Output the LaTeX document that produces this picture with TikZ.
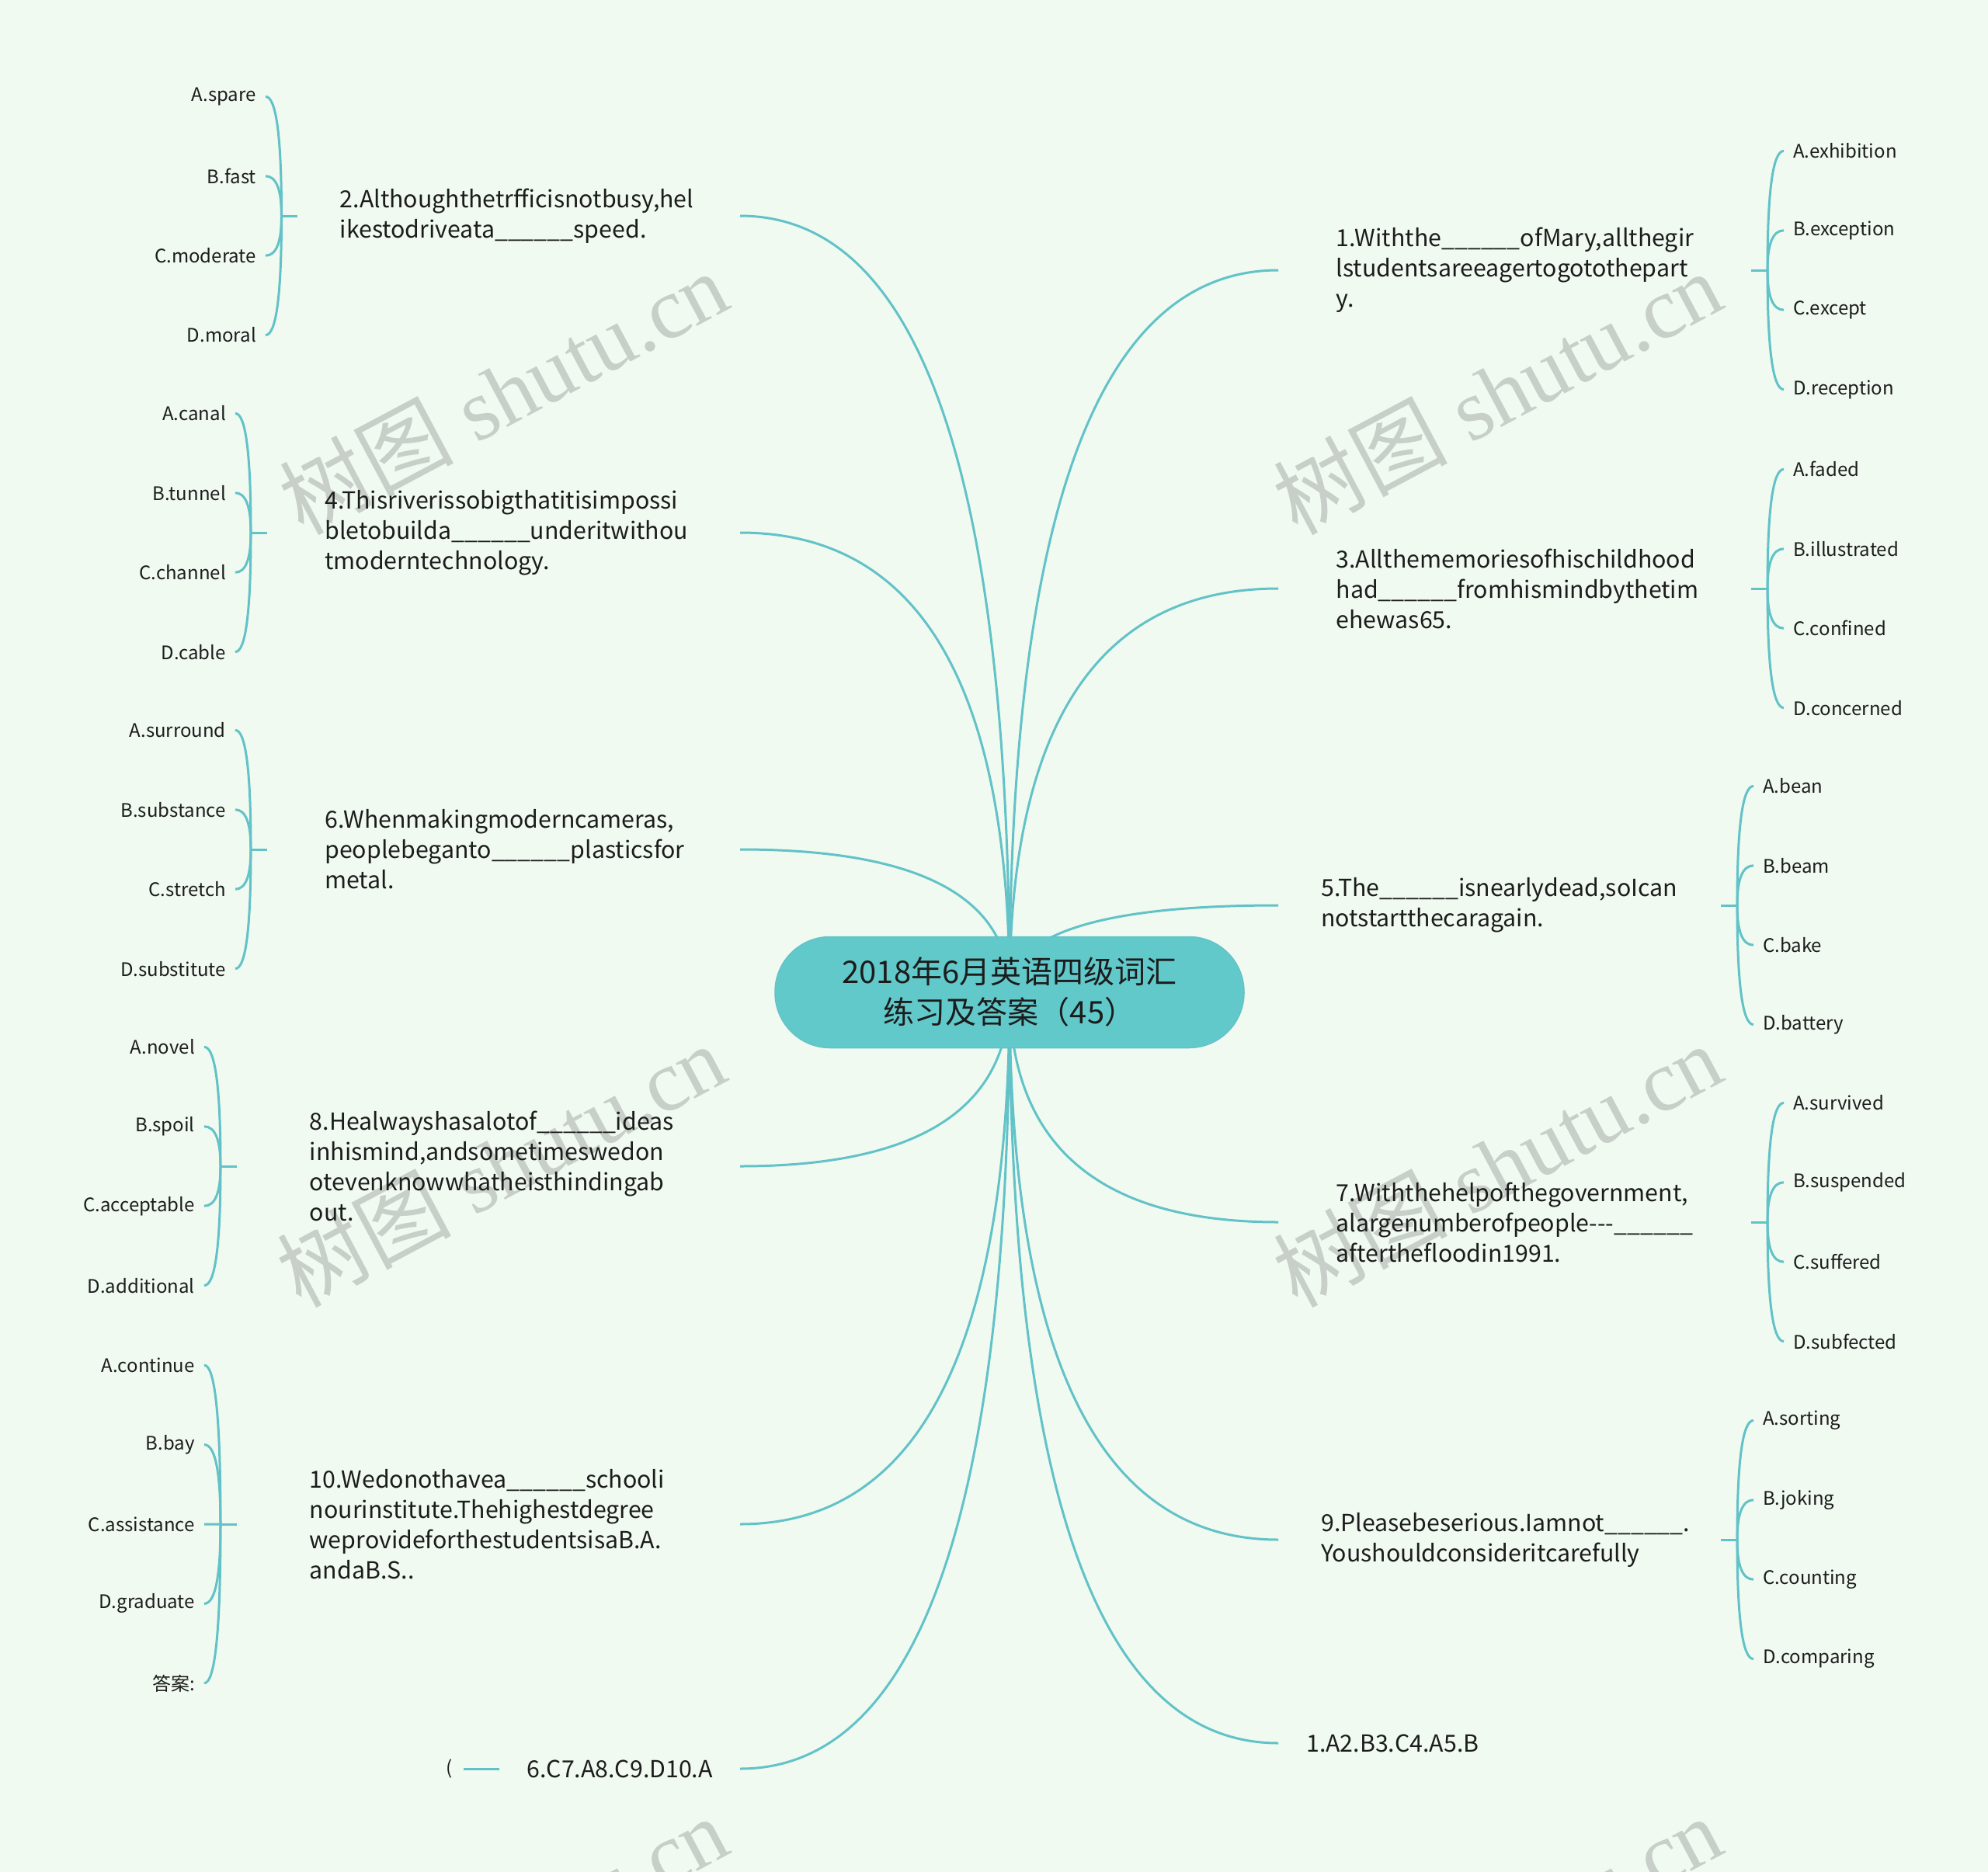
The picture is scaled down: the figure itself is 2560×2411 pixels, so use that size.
\documentclass[tikz,border=0pt]{standalone}
\usepackage{fontspec}
\setmainfont{Noto Sans CJK SC}
\newfontfamily\wmfont{Liberation Serif}
\usetikzlibrary{calc}

\definecolor{bgcol}{RGB}{240,250,240}
\definecolor{linkcol}{RGB}{98,194,200}
\definecolor{rootcol}{RGB}{98,201,203}
\definecolor{inkcol}{RGB}{28,28,28}
\definecolor{wmcol}{RGB}{200,206,200}

\pgfdeclarelayer{back}
\pgfdeclarelayer{links}
\pgfsetlayers{back,links,main}

\newcommand{\blank}{\_\_\_\_\_\_}

% curve from the root to a question, corner at (root x, question y)
\newcommand{\rootlink}[2]{%
  \begin{pgfonlayer}{links}
    \draw[link] (#1) .. controls ($(#1)!2/3!(#1 |- #2)$) and ($(#2)!2/3!(#1 |- #2)$) .. (#2);
  \end{pgfonlayer}}

% options of one question
% #1 question, #2 its side, #3 question y, #4 fork x, #5 option x, #6 option anchor, #7 first offset, #8 list
\newcommand{\optfork}[8]{%
  \coordinate (#1fork) at (#4,#3);
  \draw[link] (#1fork) -- (#1.#2);
  \foreach \o [count=\k] in {#8} {
    \node[opt, anchor=#6] (#1opt\k) at (#5,{#3+#7+(\k-1)*102.4}) {\o};
    \draw[link] (#1fork) .. controls ($(#1fork)!2/3!(#1fork |- #1opt\k.#6)$) and ($(#1opt\k.#6)!2/3!(#1fork |- #1opt\k.#6)$) .. (#1opt\k.#6);
  }}

\begin{document}
\begin{tikzpicture}[x=1pt, y=-1pt,
    link/.style={draw=linkcol, line width=3pt},
    root/.style={fill=rootcol, draw=linkcol, line width=1.5pt, rounded corners=71pt,
      minimum width=604pt, minimum height=143pt, align=center, text=inkcol,
      font=\fontsize{40}{52}\selectfont},
    qbox/.style={text width=460pt, align=left, inner sep=0pt, text=inkcol,
      font=\fontsize{30.3}{39}\selectfont},
    opt/.style={inner xsep=12pt, inner ysep=2pt, text=inkcol, font=\fontsize{24}{28}\selectfont},
    ans/.style={inner xsep=35pt, text=inkcol, font=\fontsize{30.3}{39}\selectfont},
    wm/.style={rotate=28, text=wmcol, font=\fontsize{112}{112}\selectfont}]

    \useasboundingbox (0,0) rectangle (2560,2411);

    % background and watermarks
    \begin{pgfonlayer}{back}
        \fill[bgcol] (0,0) rectangle (2560,2411);
        \node[wm] (wm1) at (648,505) {树图{\wmfont\ shutu.cn}};
        \node[wm] (wm2) at (1928,505) {树图{\wmfont\ shutu.cn}};
        \node[wm] (wm3) at (645,1500) {树图{\wmfont\ shutu.cn}};
        \node[wm] (wm4) at (1928,1500) {树图{\wmfont\ shutu.cn}};
        \node[wm] (wm5) at (648,2495) {树图{\wmfont\ shutu.cn}};
        \node[wm] (wm6) at (1928,2495) {树图{\wmfont\ shutu.cn}};
    \end{pgfonlayer}

    \node[root] (root) at (1300,1278) {2018年6月英语四级词汇\\练习及答案（45）};

    % left questions
    \node[qbox, anchor=east, minimum width=570pt] (q2) at (953,278) {2.Althoughthetrfficisnotbusy,hel\\ikestodriveata\blank speed.};
    \node[qbox, anchor=east, minimum width=609pt] (q4) at (953,686) {4.Thisriverissobigthatitisimpossi\\bletobuilda\blank underitwithou\\tmoderntechnology.};
    \node[qbox, anchor=east, minimum width=609pt] (q6) at (953,1094) {6.Whenmakingmoderncameras,\\peoplebeganto\blank plasticsfor\\metal.};
    \node[qbox, anchor=east, minimum width=648pt] (q8) at (953,1502) {8.Healwayshasalotof\blank ideas\\inhismind,andsometimeswedon\\otevenknowwhatheisthindingab\\out.};
    \node[qbox, anchor=east, minimum width=648pt] (q10) at (953,1963) {10.Wedonothavea\blank schooli\\nourinstitute.Thehighestdegree\\weprovideforthestudentsisaB.A.\\andaB.S..};
    \node[ans, anchor=east] (a2) at (953,2278) {6.C7.A8.C9.D10.A};
    \node[opt, anchor=east, inner xsep=14pt] (paren) at (597,2278) {(};

    % right questions
    \node[qbox, anchor=west, minimum width=609pt] (q1) at (1646,348) {1.Withthe\blank ofMary,allthegir\\lstudentsareeagertogotothepart\\y.};
    \node[qbox, anchor=west, minimum width=609pt] (q3) at (1646,758) {3.Allthememoriesofhischildhood\\had\blank fromhismindbythetim\\ehewas65.};
    \node[qbox, anchor=west, minimum width=570pt] (q5) at (1646,1166) {5.The\blank isnearlydead,soIcan\\notstartthecaragain.};
    \node[qbox, anchor=west, minimum width=609pt] (q7) at (1646,1574) {7.Withthehelpofthegovernment,\\\mbox{alargenumberofpeople-{}-{}-\blank}\\afterthefloodin1991.};
    \node[qbox, anchor=west, minimum width=570pt] (q9) at (1646,1983) {9.Pleasebeserious.Iamnot\blank.\\Youshouldconsideritcarefully};
    \node[ans, anchor=west, inner xsep=36pt] (a1) at (1646,2245) {1.A2.B3.C4.A5.B};

    % branches from the root
    \rootlink{root.center}{q2.east}
    \rootlink{root.center}{q4.east}
    \rootlink{root.center}{q6.east}
    \rootlink{root.center}{q8.east}
    \rootlink{root.center}{q10.east}
    \rootlink{root.center}{a2.east}
    \rootlink{root.center}{q1.west}
    \rootlink{root.center}{q3.west}
    \rootlink{root.center}{q5.west}
    \rootlink{root.center}{q7.west}
    \rootlink{root.center}{q9.west}
    \rootlink{root.center}{a1.west}
    \draw[link] (a2.west) -- (paren.east);

    % options
    \optfork{q2}{west}{278}{362.5}{342}{east}{-153.6}{A.spare,B.fast,C.moderate,D.moral}
    \optfork{q4}{west}{686}{323}{303}{east}{-153.6}{A.canal,B.tunnel,C.channel,D.cable}
    \optfork{q6}{west}{1094}{323}{303}{east}{-153.6}{A.surround,B.substance,C.stretch,D.substitute}
    \optfork{q8}{west}{1502}{284}{263}{east}{-153.6}{A.novel,B.spoil,C.acceptable,D.additional}
    \optfork{q10}{west}{1963}{284}{263}{east}{-204.8}{A.continue,B.bay,C.assistance,D.graduate,答案:}
    \optfork{q1}{east}{348}{2276}{2297}{west}{-153.6}{A.exhibition,B.exception,C.except,D.reception}
    \optfork{q3}{east}{758}{2276}{2297}{west}{-153.6}{A.faded,B.illustrated,C.confined,D.concerned}
    \optfork{q5}{east}{1166}{2237}{2258}{west}{-153.6}{A.bean,B.beam,C.bake,D.battery}
    \optfork{q7}{east}{1574}{2276}{2297}{west}{-153.6}{A.survived,B.suspended,C.suffered,D.subfected}
    \optfork{q9}{east}{1983}{2237}{2258}{west}{-153.6}{A.sorting,B.joking,C.counting,D.comparing}
\end{tikzpicture}
\end{document}
